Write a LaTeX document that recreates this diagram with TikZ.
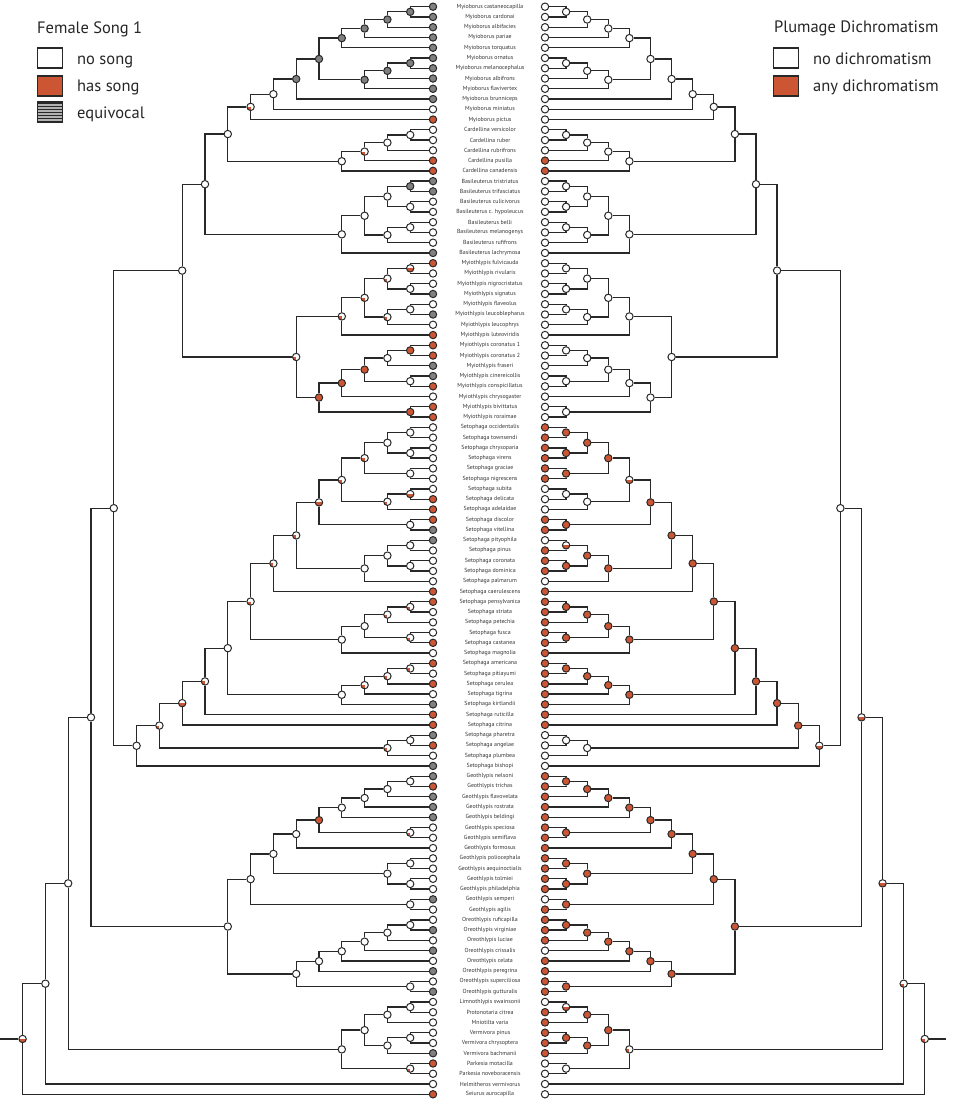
\documentclass[tikz,border=0pt]{standalone}
\usepackage{fontspec}
\setmainfont{PT Sans}
\usetikzlibrary{calc,patterns}

\definecolor{cR}{RGB}{204,86,52}
\definecolor{cG}{RGB}{128,128,128}
\colorlet{cW}{white}
\definecolor{linegray}{RGB}{40,40,40}

% one ancestor in both trees: name, child, child, height, left state, right state
\newcommand{\clade}[6]{%
	\coordinate (m#1) at ($(L#2)!.5!(L#3)$);
	\coordinate (xl#1) at ({433-22.8*#4},0);
	\coordinate (xr#1) at ({545+21.1*#4},0);
	\node[state#5] (L#1) at (m#1 -| xl#1) {};
	\node[state#6] (R#1) at (m#1 -| xr#1) {};
	\draw[branch] (L#1) |- (L#2) (L#1) |- (L#3);
	\draw[branch] (R#1) |- (R#2) (R#1) |- (R#3);
}

\begin{document}
\begin{tikzpicture}[
		x=1pt, y=-1pt,
		treenode/.style={
		% The shape:
		circle,
		minimum size=7.4pt,
		inner sep=0pt,
		% The border:
		draw=linegray,
		line width=1pt,
		% The filling:
		fill=white
		},
		stateW/.style={treenode},
		stateR/.style={treenode, fill=cR},
		stateG/.style={treenode, fill=cG},
		stateP/.style={treenode, path picture={\fill[cR] (path picture bounding box.center) rectangle (path picture bounding box.south west);}},
		stateH/.style={treenode, path picture={\fill[cR] (path picture bounding box.west) rectangle (path picture bounding box.south east);}},
		branch/.style={draw=linegray, line width=1.3pt},
		taxon/.style={font=\fontsize{5.9}{6}\selectfont, text=black!80, inner sep=0pt},
		legendbox/.style={rectangle, draw=linegray, line width=1.2pt, minimum width=25pt, minimum height=20pt, inner sep=0pt},
		legendtext/.style={anchor=base west, font=\fontsize{16.5}{18}\selectfont, text=black!85, inner sep=0pt}
	]
	\useasboundingbox (0,0) rectangle (964,1100);

	% tips: number / name / song / dichromatism
	\foreach \i/\name/\ls/\rs in {
		1/Myioborus castaneocapilla/cG/cW, 2/Myioborus cardonai/cG/cW, 3/Myioborus albifacies/cG/cW,
		4/Myioborus pariae/cG/cW, 5/Myioborus torquatus/cG/cW, 6/Myioborus ornatus/cG/cW,
		7/Myioborus melanocephalus/cG/cW, 8/Myioborus albifrons/cG/cW, 9/Myioborus flavivertex/cG/cW,
		10/Myioborus brunniceps/cG/cW, 11/Myioborus miniatus/cW/cW, 12/Myioborus pictus/cR/cW,
		13/Cardellina versicolor/cW/cW, 14/Cardellina ruber/cW/cW, 15/Cardellina rubrifrons/cW/cW,
		16/Cardellina pusilla/cR/cR, 17/Cardellina canadensis/cR/cR,
		18/Basileuterus tristriatus/cG/cW, 19/Basileuterus trifasciatus/cG/cW, 20/Basileuterus culicivorus/cW/cW,
		21/Basileuterus c. hypoleucus/cW/cW, 22/Basileuterus belli/cW/cW, 23/Basileuterus melanogenys/cW/cW,
		24/Basileuterus rufifrons/cW/cW, 25/Basileuterus lachrymosa/cG/cW,
		26/Myiothlypis fulvicauda/cR/cW, 27/Myiothlypis rivularis/cW/cW, 28/Myiothlypis nigrocristatus/cW/cW,
		29/Myiothlypis signatus/cG/cW, 30/Myiothlypis flaveolus/cW/cW, 31/Myiothlypis leucoblepharus/cG/cW,
		32/Myiothlypis leucophrys/cW/cW, 33/Myiothlypis luteoviridis/cR/cW, 34/Myiothlypis coronatus 1/cR/cW,
		35/Myiothlypis coronatus 2/cR/cW, 36/Myiothlypis fraseri/cG/cW, 37/Myiothlypis cinereicollis/cG/cW,
		38/Myiothlypis conspicillatus/cR/cW, 39/Myiothlypis chrysogaster/cW/cW, 40/Myiothlypis bivittatus/cR/cW,
		41/Myiothlypis roraimae/cR/cW,
		42/Setophaga occidentalis/cW/cR, 43/Setophaga townsendi/cW/cR, 44/Setophaga chrysoparia/cW/cR,
		45/Setophaga virens/cW/cR, 46/Setophaga graciae/cW/cR, 47/Setophaga nigrescens/cW/cR,
		48/Setophaga subita/cW/cW, 49/Setophaga delicata/cR/cW, 50/Setophaga adelaidae/cR/cW,
		51/Setophaga discolor/cR/cR, 52/Setophaga vitellina/cG/cR, 53/Setophaga pityophila/cG/cW,
		54/Setophaga pinus/cW/cR, 55/Setophaga coronata/cW/cR, 56/Setophaga dominica/cW/cR,
		57/Setophaga palmarum/cW/cW, 58/Setophaga caerulescens/cR/cR, 59/Setophaga pensylvanica/cR/cR,
		60/Setophaga striata/cW/cR, 61/Setophaga petechia/cW/cR, 62/Setophaga fusca/cW/cR,
		63/Setophaga castanea/cR/cR, 64/Setophaga magnolia/cW/cR, 65/Setophaga americana/cR/cR,
		66/Setophaga pitiayumi/cW/cR, 67/Setophaga cerulea/cR/cR, 68/Setophaga tigrina/cW/cR,
		69/Setophaga kirtlandii/cG/cR, 70/Setophaga ruticilla/cR/cR, 71/Setophaga citrina/cR/cR,
		72/Setophaga pharetra/cG/cW, 73/Setophaga angelae/cR/cW, 74/Setophaga plumbea/cW/cW,
		75/Setophaga bishopi/cG/cW,
		76/Geothlypis nelsoni/cG/cR, 77/Geothlypis trichas/cR/cR, 78/Geothlypis flavovelata/cG/cR,
		79/Geothlypis rostrata/cG/cR, 80/Geothlypis beldingi/cG/cR, 81/Geothlypis speciosa/cW/cR,
		82/Geothlypis semiflava/cW/cR, 83/Geothlypis formosus/cW/cR, 84/Geothlypis poliocephala/cW/cR,
		85/Geothlypis aequinoctialis/cW/cR, 86/Geothlypis tolmiei/cW/cR, 87/Geothlypis philadelphia/cW/cR,
		88/Geothlypis semperi/cG/cW, 89/Geothlypis agilis/cW/cR,
		90/Oreothlypis ruficapilla/cW/cR, 91/Oreothlypis virginiae/cG/cR, 92/Oreothlypis luciae/cW/cR,
		93/Oreothlypis crissalis/cG/cW, 94/Oreothlypis celata/cW/cR, 95/Oreothlypis peregrina/cG/cR,
		96/Oreothlypis superciliosa/cW/cR, 97/Oreothlypis gutturalis/cG/cR,
		98/Limnothlypis swainsonii/cW/cW, 99/Protonotaria citrea/cW/cR, 100/Mniotilta varia/cW/cR,
		101/Vermivora pinus/cW/cR, 102/Vermivora chrysoptera/cW/cR, 103/Vermivora bachmanii/cG/cR,
		104/Parkesia motacilla/cR/cW, 105/Parkesia noveboracensis/cW/cW, 106/Helmitheros vermivorus/cW/cW,
		107/Seiurus aurocapilla/cR/cW}{
		\node[treenode, fill=\ls] (L\i) at (433, {6.7+(\i-1)*10.26}) {};
		\node[treenode, fill=\rs] (R\i) at (545, {6.7+(\i-1)*10.26}) {};
		\node[taxon] (T\i) at (490, {6.7+(\i-1)*10.26}) {\name};
	}

	% Myioborus and Cardellina
	\clade{my1}{1}{2}{1}{G}{W}
	\clade{my2}{my1}{3}{2}{G}{W}
	\clade{my3}{my2}{4}{3}{G}{W}
	\clade{my4}{my3}{5}{4}{G}{W}
	\clade{my5}{6}{7}{1}{G}{W}
	\clade{my6}{my5}{8}{2}{G}{W}
	\clade{my7}{my6}{9}{3}{G}{W}
	\clade{my8}{my4}{my7}{5}{G}{W}
	\clade{my9}{my8}{10}{6}{G}{W}
	\clade{my10}{my9}{11}{7}{W}{W}
	\clade{my11}{my10}{12}{8}{P}{W}
	\clade{ca1}{13}{14}{1}{W}{W}
	\clade{ca2}{ca1}{15}{2}{W}{W}
	\clade{ca3}{ca2}{16}{3}{P}{W}
	\clade{ca4}{ca3}{17}{4}{W}{W}
	\clade{mc}{my11}{ca4}{9}{W}{W}
	% Basileuterus
	\clade{ba1}{18}{19}{1}{G}{W}
	\clade{ba2}{20}{21}{1}{W}{W}
	\clade{ba3}{ba1}{ba2}{2}{W}{W}
	\clade{ba4}{22}{23}{1}{W}{W}
	\clade{ba5}{ba4}{24}{2}{W}{W}
	\clade{ba6}{ba3}{ba5}{3}{W}{W}
	\clade{ba7}{ba6}{25}{4}{W}{W}
	\clade{mcb}{mc}{ba7}{10}{W}{W}
	% Myiothlypis
	\clade{mt1}{26}{27}{1}{H}{W}
	\clade{mt2}{28}{29}{1}{W}{W}
	\clade{mt3}{mt1}{mt2}{2}{P}{W}
	\clade{mt4}{30}{31}{1}{W}{W}
	\clade{mt5}{mt4}{32}{2}{P}{W}
	\clade{mt6}{mt3}{mt5}{3}{P}{W}
	\clade{mt7}{mt6}{33}{4}{P}{W}
	\clade{mt8}{34}{35}{1}{R}{W}
	\clade{mt9}{mt8}{36}{2}{W}{W}
	\clade{mt10}{37}{38}{1}{W}{W}
	\clade{mt11}{mt9}{mt10}{3}{R}{W}
	\clade{mt12}{mt11}{39}{4}{R}{W}
	\clade{mt13}{40}{41}{1}{R}{W}
	\clade{mt14}{mt12}{mt13}{5}{R}{W}
	\clade{mt15}{mt7}{mt14}{6}{P}{W}
	\clade{bas}{mcb}{mt15}{11}{W}{W}
	% Setophaga
	\clade{se1}{42}{43}{1}{W}{R}
	\clade{se2}{44}{45}{1}{W}{R}
	\clade{se3}{se1}{se2}{2}{W}{R}
	\clade{se4}{46}{47}{1}{W}{R}
	\clade{se5}{se3}{se4}{3}{P}{R}
	\clade{se6}{48}{49}{1}{H}{W}
	\clade{se7}{se6}{50}{2}{P}{W}
	\clade{se8}{se5}{se7}{4}{P}{H}
	\clade{se9}{51}{52}{1}{W}{R}
	\clade{se10}{se8}{se9}{5}{H}{R}
	\clade{se11}{53}{54}{1}{W}{H}
	\clade{se12}{55}{56}{1}{W}{R}
	\clade{se13}{se11}{se12}{2}{W}{R}
	\clade{se14}{se13}{57}{3}{W}{R}
	\clade{se15}{se10}{se14}{6}{P}{R}
	\clade{se16}{se15}{58}{7}{P}{R}
	\clade{se17}{59}{60}{1}{P}{R}
	\clade{se18}{se17}{61}{2}{P}{R}
	\clade{se19}{62}{63}{1}{P}{R}
	\clade{se20}{se18}{se19}{3}{W}{R}
	\clade{se21}{se20}{64}{4}{W}{R}
	\clade{se22}{se16}{se21}{8}{P}{R}
	\clade{se23}{65}{66}{1}{P}{R}
	\clade{se24}{se23}{67}{2}{P}{R}
	\clade{se25}{se24}{68}{3}{P}{R}
	\clade{se26}{se25}{69}{4}{W}{R}
	\clade{se27}{se22}{se26}{9}{W}{R}
	\clade{se28}{se27}{70}{10}{P}{R}
	\clade{se29}{se28}{71}{11}{H}{R}
	\clade{se30}{72}{73}{1}{W}{W}
	\clade{se31}{se30}{74}{2}{P}{W}
	\clade{se32}{se29}{se31}{12}{P}{R}
	\clade{se33}{se32}{75}{13}{W}{H}
	% Geothlypis and Oreothlypis
	\clade{ge1}{76}{77}{1}{W}{R}
	\clade{ge2}{ge1}{78}{2}{W}{R}
	\clade{ge3}{ge2}{79}{3}{W}{R}
	\clade{ge4}{ge3}{80}{4}{W}{R}
	\clade{ge5}{81}{82}{1}{P}{R}
	\clade{ge6}{ge4}{ge5}{5}{R}{R}
	\clade{ge7}{ge6}{83}{6}{W}{R}
	\clade{ge8}{84}{85}{1}{W}{R}
	\clade{ge9}{86}{87}{1}{W}{R}
	\clade{ge10}{ge8}{ge9}{2}{W}{R}
	\clade{ge11}{ge7}{ge10}{7}{W}{R}
	\clade{ge12}{88}{89}{1}{W}{R}
	\clade{ge13}{ge11}{ge12}{8}{W}{R}
	\clade{or1}{90}{91}{1}{W}{R}
	\clade{or2}{or1}{92}{2}{W}{R}
	\clade{or3}{or2}{93}{3}{W}{R}
	\clade{or4}{or3}{94}{4}{W}{R}
	\clade{or5}{or4}{95}{5}{W}{R}
	\clade{or6}{96}{97}{1}{W}{R}
	\clade{or7}{or5}{or6}{6}{W}{R}
	\clade{geo}{ge13}{or7}{9}{W}{R}
	% the rest
	\clade{bo1}{98}{99}{1}{W}{H}
	\clade{bo2}{bo1}{100}{2}{W}{R}
	\clade{bo3}{101}{102}{1}{W}{R}
	\clade{bo4}{bo3}{103}{2}{W}{R}
	\clade{bo5}{bo2}{bo4}{3}{W}{R}
	\clade{bo6}{104}{105}{1}{P}{W}
	\clade{bo7}{bo5}{bo6}{4}{W}{P}
	\clade{dp1}{bas}{se33}{14}{W}{W}
	\clade{dp2}{dp1}{geo}{15}{W}{H}
	\clade{dp3}{dp2}{bo7}{16}{W}{H}
	\clade{dp4}{dp3}{106}{17}{W}{P}
	\clade{root}{dp4}{107}{18}{H}{P}

	\draw[branch] (Lroot) -- ++(-23,0) coordinate (lstub);
	\draw[branch] (Rroot) -- ++(21,0) coordinate (rstub);

	% legends
	\node[legendtext] (songtitle) at (37,33) {Female Song 1};
	\node[legendbox, fill=cW] (nosongbox) at (50,58) {};
	\node[legendbox, fill=cR] (songbox) at (50,86) {};
	\node[legendbox, fill=cG!60, postaction={pattern=horizontal lines, pattern color=linegray}] (equivbox) at (50,112) {};
	\node[legendtext] (nosongtext) at (77,64) {no song};
	\node[legendtext] (songtext) at (77,91) {has song};
	\node[legendtext] (equivtext) at (77,118) {equivocal};

	\node[legendtext] (dichrotitle) at (774,32) {Plumage Dichromatism};
	\node[legendbox, fill=cW] (nodichrobox) at (786,58) {};
	\node[legendbox, fill=cR] (dichrobox) at (786,86) {};
	\node[legendtext] (nodichrotext) at (813,64) {no dichromatism};
	\node[legendtext] (dichrotext) at (813,91) {any dichromatism};
\end{tikzpicture}
\end{document}
